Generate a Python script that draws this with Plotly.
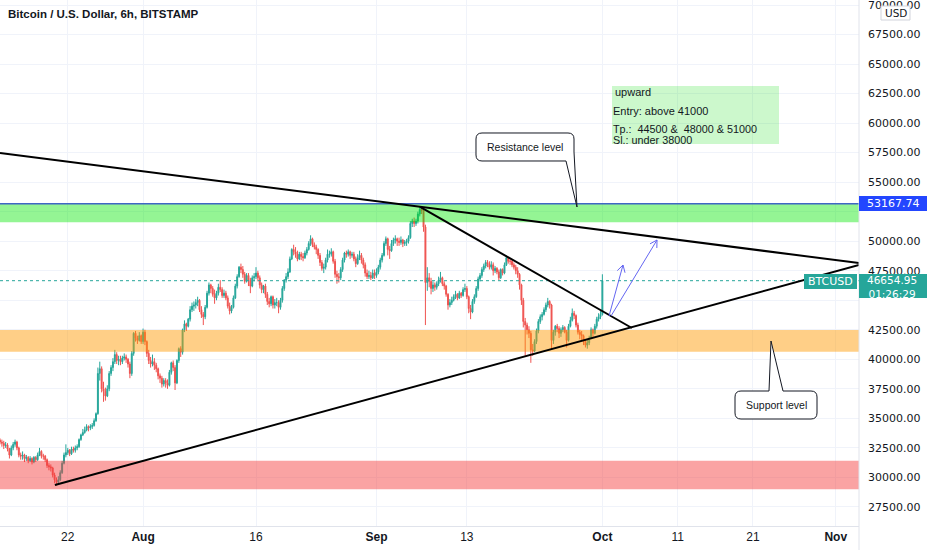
import math
import pandas as pd
import plotly.graph_objects as go

# ---------------- DATA ----------------
title_text = "Bitcoin / U.S. Dollar, 6h, BITSTAMP"
first_open = 33150
start_time = "2021-07-13 00:00"

closes = [
    33000, 32900, 32700, 32750,  # Jul 13
    32400, 31900, 32500, 32800,  # Jul 14
    33000, 32500, 31900, 31800,  # Jul 15
    31900, 31600, 31700, 31400,  # Jul 16
    31600, 31300, 31700, 31500,  # Jul 17
    31900, 32200, 31800, 31800,  # Jul 18
    31500, 31000, 30900, 30800,  # Jul 19
    30200, 29800, 29600, 29800,  # Jul 20
    30400, 31200, 31900, 32100,  # Jul 21
    32300, 32000, 32400, 32300,  # Jul 22
    32500, 32600, 33200, 33600,  # Jul 23
    33800, 34000, 34300, 34200,  # Jul 24
    34300, 34400, 34800, 35400,  # Jul 25
    38800, 39200, 37500, 37300,  # Jul 26
    36900, 37500, 38800, 39300,  # Jul 27
    39800, 40400, 39900, 40000,  # Jul 28
    39800, 40100, 40200, 40000,  # Jul 29
    39600, 38800, 40500, 42200,  # Jul 30
    41800, 41600, 42000, 41500,  # Jul 31
    42300, 41500, 40500, 39900,  # Aug 1
    39600, 39800, 39500, 39200,  # Aug 2
    38600, 38400, 37900, 38200,  # Aug 3
    38000, 37800, 38900, 39700,  # Aug 4
    39300, 38000, 39900, 40900,  # Aug 5
    40600, 42500, 43000, 42800,  # Aug 6
    43400, 44200, 44500, 44600,  # Aug 7
    44800, 45000, 44200, 43800,  # Aug 8
    43600, 44400, 45600, 46300,  # Aug 9
    46000, 45500, 45200, 45600,  # Aug 10
    46100, 45900, 45400, 45600,  # Aug 11
    45200, 44500, 44100, 44400,  # Aug 12
    45200, 46200, 47000, 47800,  # Aug 13
    47600, 47200, 46600, 47100,  # Aug 14
    46700, 46200, 46900, 47000,  # Aug 15
    47300, 46900, 46300, 45900,  # Aug 16
    46200, 45500, 44900, 44700,  # Aug 17
    45300, 44600, 44800, 44800,  # Aug 18
    44400, 45000, 46000, 46700,  # Aug 19
    47000, 47400, 48500, 49300,  # Aug 20
    49100, 48900, 48500, 48900,  # Aug 21
    48700, 48600, 49000, 49300,  # Aug 22
    49800, 50200, 49700, 49500,  # Aug 23
    49300, 48800, 48200, 47700,  # Aug 24
    47800, 48400, 48900, 48900,  # Aug 25
    49100, 48300, 47200, 47000,  # Aug 26
    46900, 47600, 48400, 49000,  # Aug 27
    48900, 49100, 48800, 48900,  # Aug 28
    48500, 48100, 48600, 48800,  # Aug 29
    48400, 48000, 47300, 47000,  # Aug 30
    47100, 46900, 47300, 47100,  # Aug 31
    47400, 47800, 48400, 48800,  # Sep 1
    49800, 50200, 49300, 49200,  # Sep 2
    49800, 50100, 50200, 50000,  # Sep 3
    49900, 50100, 49800, 49900,  # Sep 4
    50000, 50300, 51500, 51700,  # Sep 5
    51500, 51700, 52300, 52700,  # Sep 6
    52600, 51200, 46500, 46900,  # Sep 7
    46600, 46000, 46300, 46100,  # Sep 8
    46400, 46700, 46900, 46400,  # Sep 9
    46200, 45500, 44600, 44800,  # Sep 10
    45000, 45300, 45500, 45200,  # Sep 11
    45600, 45400, 45900, 46000,  # Sep 12
    45300, 44300, 44000, 44900,  # Sep 13
    45300, 46000, 46800, 47100,  # Sep 14
    47600, 47900, 48200, 48100,  # Sep 15
    47800, 48000, 47500, 47700,  # Sep 16
    47400, 46900, 47600, 47300,  # Sep 17
    48000, 48600, 48300, 48300,  # Sep 18
    48000, 47800, 47500, 47200,  # Sep 19
    46300, 45000, 43200, 42900,  # Sep 20
    42500, 42200, 40800, 40700,  # Sep 21
    41500, 42400, 43200, 43600,  # Sep 22
    43800, 44200, 44600, 44900,  # Sep 23
    44600, 41600, 42300, 42800,  # Sep 24
    42600, 42200, 42500, 42700,  # Sep 25
    42300, 41600, 42800, 43300,  # Sep 26
    43900, 43700, 42900, 42300,  # Sep 27
    42100, 42000, 41500, 41200,  # Sep 28
    41400, 41800, 42500, 42200,  # Sep 29
    42800, 43400, 43600, 43800,  # Sep 30
    46654.95,                    # Oct 1 (live)
]

highs = [
    33300, 33200, 33100, 33000,
    32900, 32500, 32700, 33000,
    33200, 33100, 32600, 32100,
    32200, 32000, 31900, 31800,
    31800, 31700, 31800, 31800,
    32100, 32500, 32300, 32000,
    31900, 31600, 31200, 31100,
    30900, 30400, 30000, 30100,
    30600, 31400, 32100, 32800,
    32500, 32400, 32600, 32600,
    32700, 32800, 33300, 33700,
    34100, 34300, 34500, 34400,
    34500, 34600, 35000, 35500,
    39300, 39800, 39400, 38100,
    37600, 37800, 39000, 39500,
    40100, 40800, 40600, 40300,
    40300, 40300, 40500, 40400,
    40100, 39800, 40700, 42300,
    42400, 42000, 42300, 42100,
    42600, 42500, 41600, 40800,
    40200, 40400, 40100, 39700,
    39300, 38800, 38600, 38400,
    38400, 38300, 39100, 39800,
    39900, 39500, 40000, 41000,
    41100, 42600, 43300, 43100,
    43500, 44500, 44800, 44900,
    45100, 45300, 45100, 44500,
    44000, 44600, 45800, 46500,
    46400, 46200, 45900, 45800,
    46400, 46700, 46100, 45900,
    45800, 45400, 44800, 44600,
    45400, 46400, 47200, 47900,
    48100, 47900, 47400, 47300,
    47300, 46900, 47100, 47300,
    47800, 47500, 47100, 46500,
    46300, 46400, 45700, 45200,
    45400, 45400, 45100, 45200,
    45000, 45200, 46200, 46800,
    47300, 47700, 48700, 49400,
    49700, 49500, 49200, 49100,
    49100, 49000, 49200, 49500,
    50000, 50500, 50300, 49900,
    49700, 49400, 49000, 48400,
    48100, 48600, 49300, 49200,
    49400, 49200, 48500, 47500,
    47300, 47800, 48600, 49100,
    49200, 49300, 49200, 49100,
    49100, 48700, 48900, 49200,
    49000, 48600, 48200, 47600,
    47500, 47400, 47600, 47600,
    47700, 48000, 48600, 49000,
    50000, 50400, 50300, 49600,
    50100, 50300, 50500, 50300,
    50300, 50400, 50200, 50100,
    50200, 50500, 51700, 51900,
    52000, 51900, 52500, 52900,
    52900, 52700, 51400, 47800,
    47300, 46900, 46600, 46500,
    46600, 47000, 47400, 47000,
    46600, 46300, 45600, 45100,
    45300, 45500, 45800, 45600,
    45800, 45700, 46100, 46400,
    46200, 45400, 44600, 45100,
    45500, 46200, 47000, 47300,
    47800, 48100, 48400, 48400,
    48300, 48300, 48200, 47900,
    47800, 47600, 47700, 47700,
    48200, 48800, 48700, 48500,
    48400, 48200, 48000, 47800,
    47300, 46400, 45200, 43500,
    43100, 42800, 42400, 41300,
    41700, 42600, 43400, 43800,
    44000, 44400, 44800, 45200,
    45000, 44700, 42500, 42900,
    43000, 42800, 42700, 42900,
    42800, 42500, 43000, 43600,
    44300, 44100, 43800, 43100,
    42500, 42400, 42100, 41700,
    41700, 42000, 42700, 42600,
    43000, 43600, 43900, 44100,
    47200,
]

lows = [
    32800, 32600, 32400, 32500,
    32200, 31600, 31800, 32300,
    32600, 32300, 31700, 31500,
    31500, 31300, 31400, 31200,
    31300, 31100, 31200, 31300,
    31400, 31800, 31600, 31500,
    31300, 30800, 30600, 30500,
    30000, 29500, 29300, 29400,
    29700, 30300, 31100, 31700,
    31900, 31800, 31900, 32100,
    32100, 32300, 32500, 33100,
    33500, 33700, 33900, 33900,
    34000, 34100, 34300, 34700,
    35300, 38200, 37200, 36400,
    36500, 36800, 37300, 38600,
    39000, 39600, 39600, 39500,
    39500, 39600, 39900, 39700,
    39300, 38400, 38600, 40300,
    41500, 41300, 41500, 41300,
    41300, 41200, 40200, 39600,
    39300, 39400, 39100, 38900,
    38300, 38000, 37600, 37700,
    37600, 37500, 37700, 38700,
    39000, 37400, 37900, 39700,
    40200, 40400, 42300, 42400,
    42700, 43200, 44000, 44100,
    44300, 44500, 44000, 43500,
    42900, 43400, 44300, 45400,
    45600, 45300, 44700, 45000,
    45400, 45700, 45200, 45200,
    45000, 44300, 43800, 43900,
    44300, 45100, 46000, 46900,
    47300, 46900, 46400, 46500,
    46200, 45600, 46100, 46600,
    46800, 46600, 46000, 45600,
    45600, 45200, 44600, 44400,
    44500, 44300, 44300, 44500,
    43900, 44200, 44800, 45800,
    46500, 46800, 47300, 48400,
    48800, 48600, 48300, 48400,
    48400, 48300, 48500, 48800,
    49200, 49600, 49500, 49300,
    48900, 48500, 47900, 47500,
    47300, 47600, 48200, 48600,
    48700, 48100, 46900, 46400,
    46500, 46700, 47400, 48200,
    48600, 48700, 48500, 48600,
    48300, 47800, 48000, 48400,
    48100, 47700, 47000, 46800,
    46800, 46700, 46800, 46800,
    46900, 47200, 47600, 48200,
    48700, 49600, 48800, 48500,
    49100, 49600, 49800, 49600,
    49600, 49700, 49500, 49600,
    49600, 49800, 50200, 51200,
    51200, 51300, 51500, 52100,
    52300, 50800, 42900, 45800,
    46100, 45500, 45700, 45800,
    45900, 46200, 46500, 46200,
    45900, 45300, 44200, 44400,
    44600, 44900, 45100, 45000,
    45100, 45200, 45300, 45700,
    45100, 43900, 43400, 43900,
    44700, 45200, 45800, 46600,
    46900, 47400, 47700, 47800,
    47600, 47600, 47100, 47300,
    47200, 46700, 46800, 47100,
    47200, 47900, 48100, 48000,
    47800, 47600, 47200, 46900,
    45900, 44600, 42700, 40300,
    42100, 41800, 39700, 40300,
    40600, 41300, 42200, 43000,
    43300, 43700, 44000, 44400,
    44300, 40800, 41300, 42000,
    42300, 41800, 41900, 42300,
    42200, 41000, 41500, 42700,
    43200, 43400, 42700, 42100,
    41700, 41600, 41200, 41000,
    40900, 41200, 41700, 41900,
    42100, 42600, 43200, 43400,
    43700,
]

# horizontal zones (price bands)
zone_low = [51600, 40640, 28990]
zone_high = [53168, 42480, 31415]
zone_fill = ["rgba(0,230,0,0.42)", "rgba(255,152,0,0.47)", "rgba(245,60,60,0.47)"]

# trend lines (time, price anchors)
trend_t0 = ["2021-07-13 00:00", "2021-09-06 19:00", "2021-07-20 07:00"]
trend_p0 = [57470, 52900, 29360]
trend_t1 = ["2021-11-04 02:00", "2021-10-04 22:00", "2021-11-04 02:00"]
trend_p1 = [48150, 42650, 47985]

level_price = 53167.74
last_price = 46654.95
countdown = "01:26:29"
symbol = "BTCUSD"

price_ticks = [27500, 30000, 32500, 35000, 37500, 40000, 42500, 45000, 47500,
               50000, 52500, 55000, 57500, 60000, 62500, 65000, 67500, 70000]
hidden_ticks = [45000, 52500]  # covered by the price labels
date_ticks = ["2021-07-22", "2021-08-01", "2021-08-16", "2021-09-01", "2021-09-13",
              "2021-10-01", "2021-10-11", "2021-10-21", "2021-11-01"]
date_labels = ["22", "<b>Aug</b>", "16", "<b>Sep</b>", "13", "<b>Oct</b>", "11", "21", "<b>Nov</b>"]

note_lines = ["upward", "Entry: above 41000",
              "Tp.:\u00a0 44500 &\u00a0 48000 & 51000", "Sl.: under 38000"]

# ---------------- FIGURE ----------------
times = pd.date_range(start_time, periods=len(closes), freq="6h")
opens = [first_open] + closes[:-1]
hi = [max(h, o, c) for h, o, c in zip(highs, opens, closes)]
lo = [min(l, o, c) for l, o, c in zip(lows, opens, closes)]

W, H = 932, 550
PW, PH = 859, 526  # plot area in px
ml, mr, mt, mb = 0, W - PW, 0, H - PH


def P(x, y):
    return x / PW, 1 - y / PH


fig = go.Figure()
fig.add_trace(go.Candlestick(
    x=times, open=opens, high=hi, low=lo, close=closes,
    increasing=dict(line=dict(color="#26a69a", width=1), fillcolor="#26a69a"),
    decreasing=dict(line=dict(color="#ef5350", width=1), fillcolor="#ef5350"),
    whiskerwidth=0, hoverinfo="skip", showlegend=False,
))

shapes = []
for z0, z1, fc in zip(zone_low, zone_high, zone_fill):
    shapes.append(dict(type="rect", xref="paper", yref="y", x0=0, x1=1, y0=z0, y1=z1,
                       fillcolor=fc, line=dict(width=0), layer="above"))
shapes.append(dict(type="line", xref="paper", yref="y", x0=0, x1=1, y0=level_price, y1=level_price,
                   line=dict(color="#3f66c4", width=1.5), layer="above"))
shapes.append(dict(type="line", xref="paper", yref="y", x0=0, x1=1, y0=last_price, y1=last_price,
                   line=dict(color="#26a69a", width=1, dash="dot"), layer="above"))
for t0, p0, t1, p1 in zip(trend_t0, trend_p0, trend_t1, trend_p1):
    shapes.append(dict(type="line", xref="x", yref="y", x0=t0, y0=p0, x1=t1, y1=p1,
                       line=dict(color="#000000", width=2), layer="above"))


def arrow(x0, y0, x1, y1, color="#6466f1"):
    out = []
    a = P(x0, y0); b = P(x1, y1)
    out.append(dict(type="line", xref="paper", yref="paper", x0=a[0], y0=a[1], x1=b[0], y1=b[1],
                    line=dict(color=color, width=1), layer="above"))
    ang = math.atan2(y1 - y0, x1 - x0)
    for d in (math.radians(150), math.radians(-150)):
        hx = x1 + 8 * math.cos(ang + d)
        hy = y1 + 8 * math.sin(ang + d)
        c = P(hx, hy)
        out.append(dict(type="line", xref="paper", yref="paper", x0=b[0], y0=b[1], x1=c[0], y1=c[1],
                        line=dict(color=color, width=1), layer="above"))
    return out

shapes += arrow(609, 316, 623, 265)
shapes += arrow(611, 316, 657, 240)

nb0 = P(612, 144); nb1 = P(779, 86)
shapes.append(dict(type="rect", xref="paper", yref="paper", x0=nb0[0], y0=nb0[1], x1=nb1[0], y1=nb1[1],
                   fillcolor="rgba(0,220,0,0.2)", line=dict(width=0), layer="above"))


def path_of(pts):
    s = ""
    for cmd, coords in pts:
        s += cmd + " ".join("%.5f,%.5f" % P(x, y) for x, y in coords) + " "
    return s + "Z"

r = 6
bx0, by0, bx1, by1 = 476, 133, 574, 161
res_path = path_of([
    ("M", [(bx0 + r, by0)]), ("L", [(bx1 - r, by0)]), ("Q", [(bx1, by0), (bx1, by0 + r)]),
    ("L", [(bx1, by1 - 9)]), ("L", [(577, 207)]), ("L", [(566, by1)]),
    ("L", [(bx0 + r, by1)]), ("Q", [(bx0, by1), (bx0, by1 - r)]),
    ("L", [(bx0, by0 + r)]), ("Q", [(bx0, by0), (bx0 + r, by0)]),
])
sx0, sy0, sx1, sy1 = 735, 391, 817, 419
sup_path = path_of([
    ("M", [(sx0 + r, sy0)]), ("L", [(769, sy0)]), ("L", [(771, 341)]), ("L", [(783, sy0)]),
    ("L", [(sx1 - r, sy0)]), ("Q", [(sx1, sy0), (sx1, sy0 + r)]),
    ("L", [(sx1, sy1 - r)]), ("Q", [(sx1, sy1), (sx1 - r, sy1)]),
    ("L", [(sx0 + r, sy1)]), ("Q", [(sx0, sy1), (sx0, sy1 - r)]),
    ("L", [(sx0, sy0 + r)]), ("Q", [(sx0, sy0), (sx0 + r, sy0)]),
])
for pth in (res_path, sup_path):
    shapes.append(dict(type="path", xref="paper", yref="paper", path=pth,
                       fillcolor="#ffffff", line=dict(color="#131722", width=1), layer="above"))

shapes.append(dict(type="line", xref="paper", yref="paper", x0=1, x1=1, y0=-mb / PH, y1=1,
                   line=dict(color="#e0e3eb", width=1), layer="above"))


def rect_px(x0, y0, x1, y1, color):
    a = P(x0, y1); b = P(x1, y0)
    return dict(type="rect", xref="paper", yref="paper", x0=a[0], y0=a[1], x1=b[0], y1=b[1],
                fillcolor=color, line=dict(width=0), layer="above")

shapes.append(rect_px(859, 196, 927, 211, "#2346ff"))
shapes.append(rect_px(859, 274, 927, 298, "#26a69a"))
shapes.append(rect_px(804, 274, 857, 289, "#26a69a"))
shapes.append(dict(type="rect", xref="paper", yref="paper",
                   x0=P(881, 0)[0], x1=P(910, 0)[0], y0=P(0, 20)[1], y1=P(0, 6)[1],
                   fillcolor="#ffffff", line=dict(color="#d1d4dc", width=1), layer="above"))

ann = []
def text_px(x, y, s, size=11, color="#131722", xanchor="left", family="Liberation Sans"):
    px, py = P(x, y)
    ann.append(dict(xref="paper", yref="paper", x=px, y=py, text=s, showarrow=False,
                    xanchor=xanchor, yanchor="middle", borderpad=0,
                    font=dict(size=size, color=color, family=family)))

text_px(7, 14, "<b>" + title_text + "</b>", size=11.5)
text_px(614, 92, note_lines[0])
text_px(612, 111, note_lines[1])
text_px(612, 128.5, note_lines[2], size=10.8)
text_px(612, 139.5, note_lines[3], size=10.8)
text_px(525, 147, "Resistance level", size=10.5, xanchor="center")
text_px(776, 405, "Support level", size=10.5, xanchor="center")
text_px(866, 203.5, "%.2f" % level_price, size=11, color="#ffffff", family="DejaVu Sans")
text_px(866, 287, "%.2f<br>%s" % (last_price, countdown), size=10.5, color="#ffffff",
        family="DejaVu Sans")
text_px(830.5, 281.5, symbol, size=11, color="#ffffff", xanchor="center", family="DejaVu Sans")
text_px(895.5, 13.5, "USD", size=10.5, xanchor="center", family="DejaVu Sans")

t_start = pd.Timestamp(start_time)
fig.update_layout(
    width=W, height=H, margin=dict(l=ml, r=mr, t=mt, b=mb, pad=0),
    paper_bgcolor="#ffffff", plot_bgcolor="#ffffff",
    shapes=shapes, annotations=ann, showlegend=False, hovermode=False,
    xaxis=dict(
        type="date", range=[t_start, pd.Timestamp("2021-11-04 02:00")],
        rangeslider=dict(visible=False),
        tickvals=date_ticks, ticktext=date_labels, ticks="", ticklen=0,
        tickfont=dict(family="Liberation Sans", size=12, color="#131722"),
        showgrid=True, gridcolor="#f0f3fa", gridwidth=1,
        showline=True, linecolor="#e0e3eb", linewidth=1, zeroline=False,
        fixedrange=True,
    ),
    yaxis=dict(
        side="right", range=[25885, 70423], tickvals=price_ticks,
        ticktext=["" if v in hidden_ticks else "%.2f" % v for v in price_ticks],
        ticks="", ticklen=0, ticklabeloverflow="allow",
        tickfont=dict(family="DejaVu Sans", size=11, color="#131722"),
        showgrid=True, gridcolor="#f0f3fa", gridwidth=1, zeroline=False,
        showline=False, fixedrange=True, ticklabelstandoff=8,
    ),
)

fig.write_html("out.html", config={"displayModeBar": False},
               post_script="document.body.style.margin='0';")
